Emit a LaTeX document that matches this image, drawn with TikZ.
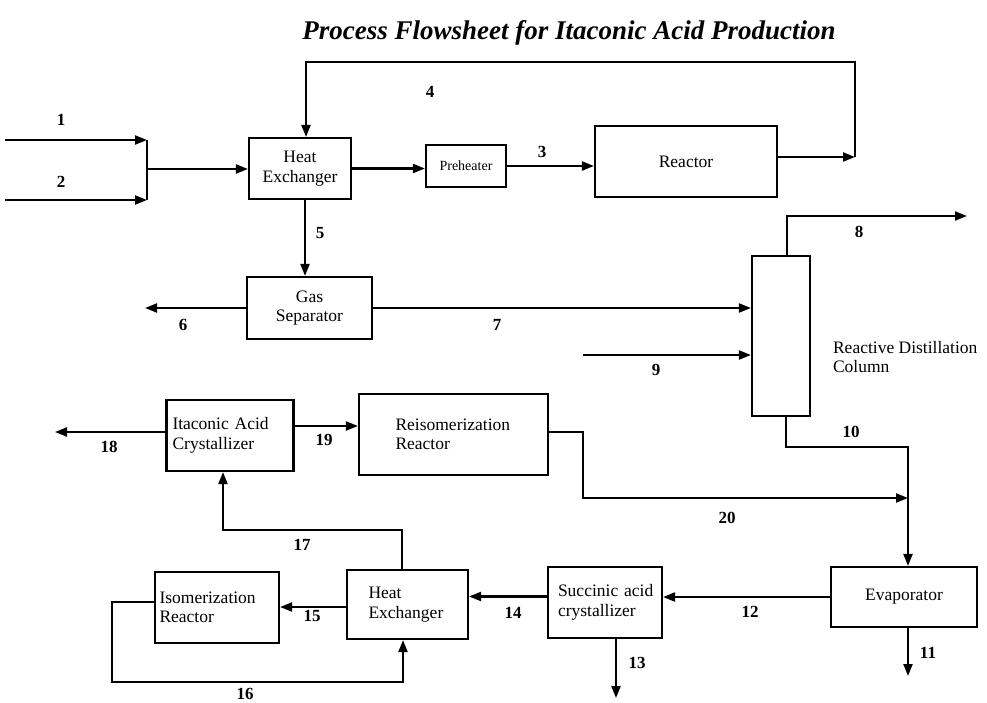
\documentclass[tikz,border=0pt]{standalone}
\usepackage{fontspec}
\setmainfont{Liberation Serif}
\usetikzlibrary{arrows.meta}
\begin{document}
\begin{tikzpicture}[x=1pt,y=-1pt,
  line width=2.1pt,
  box/.style={draw, rectangle, inner sep=0pt, font=\fontsize{17.5}{19.5}\selectfont},
  arr/.style={-{Triangle[length=12pt,width=9pt]}},
  lbl/.style={font=\fontsize{17}{19}\selectfont\bfseries, inner sep=0pt}]
\useasboundingbox (0,0) rectangle (987,703);
\node[font=\fontsize{27}{29}\selectfont\bfseries\itshape] (title) at (569,33) {Process Flowsheet for Itaconic Acid Production};

% boxes
\node[box, minimum width=102, minimum height=61, align=center] (he1) at (300,168.5) {Heat\\Exchanger};
\node[box, minimum width=80, minimum height=42, font=\fontsize{14}{16}\selectfont] (pre) at (466,166) {Preheater};
\node[box, minimum width=182, minimum height=71] (reac) at (686,161.5) {Reactor};
\node[box, minimum width=125, minimum height=62, align=center] (gas) at (309.5,308) {Gas\\Separator};
\node[box, minimum width=58, minimum height=160] (col) at (781,336) {};
\node[box, minimum width=126, minimum height=71, align=left, text width=115, inner xsep=6pt] (itac) at (230,435.5) {Itaconic Acid\\Crystallizer};
\node[box, minimum width=189, minimum height=81, align=left, text width=160, inner xsep=6pt] (reis) at (453.5,434.5) {\hspace*{22pt}Reisomerization\\\hspace*{22pt}Reactor};
\node[box, minimum width=146, minimum height=60] (evap) at (904,597) {Evaporator};
\node[box, minimum width=114, minimum height=71, align=left, text width=110, inner xsep=2pt] (succ) at (605,602.5) {\hspace*{8pt}Succinic acid\\\hspace*{8pt}crystallizer};
\node[box, minimum width=121, minimum height=69, align=left, text width=110, inner xsep=5pt] (he2) at (407.5,604.5) {\hspace*{16pt}Heat\\\hspace*{16pt}Exchanger};
\node[box, minimum width=124, minimum height=71, align=left, text width=115, inner xsep=4pt] (isom) at (217,607.5) {Isomerization\\Reactor};
\node[font=\fontsize{17.5}{19.5}\selectfont, align=left, anchor=west, inner sep=0pt] (rdc) at (832,357) {Reactive Distillation\\Column};

% coordinates
\coordinate (s1) at (5,140);
\coordinate (s2) at (5,200);
\coordinate (m1) at (147,140);
\coordinate (m2) at (147,200);
\coordinate (j12) at (147,169);
\coordinate (c4) at (855,157);
\coordinate (t4) at (855,62);
\coordinate (e6) at (145,308);
\coordinate (s9) at (583,355);
\coordinate (c8) at (787,216);
\coordinate (e8) at (967,216);
\coordinate (c10) at (908,447);
\coordinate (j20) at (908,498);
\coordinate (e11) at (908,676);
\coordinate (e13) at (616,698);
\coordinate (c16a) at (112,602);
\coordinate (c16b) at (403,682);
\coordinate (c17a) at (402,530);
\coordinate (c17b) at (223,530);
\coordinate (e18) at (55,432);

% connectors
\draw[arr] (s1) -- (m1);
\draw[arr] (s2) -- (m2);
\draw (m1) -- (m2);
\draw[arr] (j12) -- (j12 -| he1.west);
\draw[arr] (he1.east) -- (he1.east -| pre.west);
\draw[arr] (pre.east) -- (pre.east -| reac.west);
\draw[arr] (reac.east |- c4) -- (c4);
\draw[arr] (c4) -- (t4) -| ([xshift=6pt]he1.north);
\draw[arr] ([xshift=5pt]he1.south) -- ([xshift=5pt]he1.south |- gas.north);
\draw[arr] (gas.west) -- (e6);
\draw[arr] (gas.east) -- (gas.east -| col.west);
\draw[arr] (s9) -- (s9 -| col.west);
\draw[arr] (col.north -| c8) -- (c8) -- (e8);
\draw[arr] ([xshift=5pt]col.south) |- (c10) -- (c10 |- evap.north);
\draw[arr] ([yshift=2.5pt]reis.east) -- ++(34,0) |- (j20);
\draw[arr] (evap.south -| e11) -- (e11);
\draw[arr] (evap.west) -- (evap.west -| succ.east);
\draw[arr] (succ.south -| e13) -- (e13);
\draw[arr] ([yshift=6pt]succ.west) -- ([yshift=6pt]succ.west -| he2.east);
\draw[arr] ([yshift=-2.5pt]he2.west) -- ([yshift=-2.5pt]he2.west -| isom.east);
\draw[arr] (isom.west |- c16a) -- (c16a) |- (c16b) -- (c16b |- he2.south);
\draw[arr] (he2.north -| c17a) -- (c17a) -- (c17b) -- (c17b |- itac.south);
\draw[arr] (itac.west |- e18) -- (e18);
\draw[arr] ([yshift=9.5pt]itac.east) -- ([yshift=9.5pt]itac.east -| reis.west);

% labels
\node[lbl] (l1) at (61,120) {1};
\node[lbl] (l2) at (61,182) {2};
\node[lbl] (l3) at (542,152) {3};
\node[lbl] (l4) at (430,92) {4};
\node[lbl] (l5) at (320,233) {5};
\node[lbl] (l6) at (183,325) {6};
\node[lbl] (l7) at (497,325) {7};
\node[lbl] (l8) at (859,232) {8};
\node[lbl] (l9) at (656,370) {9};
\node[lbl] (l10) at (851,432) {10};
\node[lbl] (l11) at (928,653) {11};
\node[lbl] (l12) at (750,612) {12};
\node[lbl] (l13) at (637,663) {13};
\node[lbl] (l14) at (513,613) {14};
\node[lbl] (l15) at (312,616) {15};
\node[lbl] (l16) at (245,694) {16};
\node[lbl] (l17) at (302,545) {17};
\node[lbl] (l18) at (109,447) {18};
\node[lbl] (l19) at (324,440) {19};
\node[lbl] (l20) at (727,518) {20};
\end{tikzpicture}
\end{document}
